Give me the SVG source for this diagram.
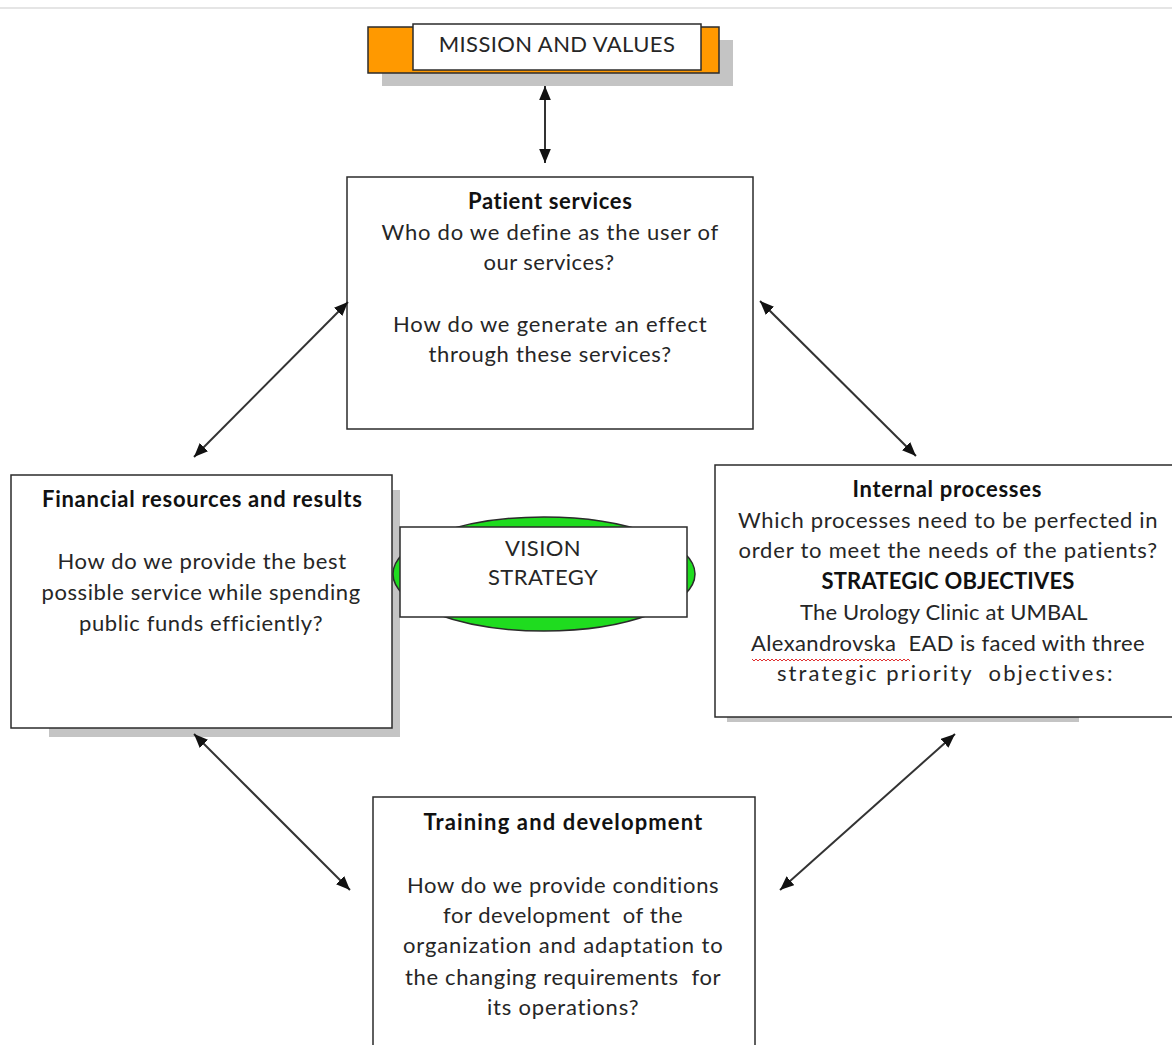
<svg xmlns="http://www.w3.org/2000/svg" width="1172" height="1045" viewBox="0 0 1172 1045">
  <style>
    .box { fill: #ffffff; stroke: #2b2b2b; stroke-width: 1.5; }
    .shadow { fill: #c4c4c4; }
    .t { font-family: Lato, "Open Sans", "Liberation Sans", sans-serif; font-size: 22px; letter-spacing: 0.4px; fill: #262626; text-anchor: middle; }
    .b { font-weight: bold; fill: #111111; letter-spacing: 0.2px; }
    .link { stroke: #333333; stroke-width: 2; fill: none; marker-start: url(#arrow); marker-end: url(#arrow); }
  </style>
  <defs>
    <marker id="arrow" viewBox="0 0 12 10" refX="12" refY="5" markerWidth="14" markerHeight="12" markerUnits="userSpaceOnUse" orient="auto-start-reverse">
      <path d="M0,0 L12,5 L0,10 z" fill="#111111"/>
    </marker>
  </defs>

  <rect width="1172" height="1045" fill="#ffffff"/>
  <line x1="0" y1="8" x2="1172" y2="8" stroke="#dcdcdc" stroke-width="1.5"/>

  <!-- Mission and values -->
  <g id="mission">
    <rect class="shadow" x="382" y="40" width="351" height="46"/>
    <rect x="368" y="27" width="351" height="46" fill="#ff9900" stroke="#2b2b2b" stroke-width="1.5"/>
    <rect class="box" x="413" y="24" width="288" height="46"/>
    <text class="t" x="557" y="52" font-size="19" letter-spacing="0">MISSION AND VALUES</text>
  </g>

  <!-- Patient services -->
  <g id="patient">
    <rect class="box" x="347" y="177" width="406" height="252"/>
    <text class="t b" x="550" y="209" textLength="164">Patient services</text>
    <text class="t" x="550" y="240" textLength="337">Who do we define as the user of</text>
    <text class="t" x="549" y="270" textLength="131">our services?</text>
    <text class="t" x="550" y="332" textLength="314">How do we generate an effect</text>
    <text class="t" x="550" y="362" textLength="243">through these services?</text>
  </g>

  <!-- Financial resources and results -->
  <g id="financial">
    <rect class="shadow" x="49" y="490" width="351" height="247"/>
    <rect class="box" x="11" y="475" width="381" height="253"/>
    <text class="t b" x="202" y="507" textLength="320">Financial resources and results</text>
    <text class="t" x="202" y="569" textLength="289">How do we provide the best</text>
    <text class="t" x="201" y="600" textLength="319">possible service while spending</text>
    <text class="t" x="201" y="631" textLength="244">public funds efficiently?</text>
  </g>

  <!-- Vision / strategy -->
  <g id="vision">
    <ellipse cx="544" cy="574" rx="151" ry="57" fill="#1fdc1f" stroke="#2b2b2b" stroke-width="1.5"/>
    <rect class="box" x="400" y="527" width="287" height="90"/>
    <text class="t" x="543" y="556" font-size="19" letter-spacing="0">VISION</text>
    <text class="t" x="543" y="585" font-size="19" letter-spacing="0">STRATEGY</text>
  </g>

  <!-- Internal processes -->
  <g id="internal">
    <rect class="shadow" x="727" y="716" width="352" height="6"/>
    <rect class="box" x="715" y="465" width="470" height="252" stroke-width="2"/>
    <text class="t b" x="947" y="497" textLength="189">Internal processes</text>
    <text class="t" x="948" y="528" textLength="420">Which processes need to be perfected in</text>
    <text class="t" x="948" y="558" textLength="419">order to meet the needs of the patients?</text>
    <text class="t b" x="948" y="589" letter-spacing="0.6">STRATEGIC OBJECTIVES</text>
    <text class="t" x="944" y="620" textLength="288">The Urology Clinic at UMBAL</text>
    <text class="t" x="948" y="651" textLength="394" xml:space="preserve">Alexandrovska  EAD is faced with three</text>
    <text class="t" x="945" y="681" textLength="336" xml:space="preserve">strategic priority  objectives:</text>
    <path d="M752,659 l2,2 l2,-2 l2,2 l2,-2 l2,2 l2,-2 l2,2 l2,-2 l2,2 l2,-2 l2,2 l2,-2 l2,2 l2,-2 l2,2 l2,-2 l2,2 l2,-2 l2,2 l2,-2 l2,2 l2,-2 l2,2 l2,-2 l2,2 l2,-2 l2,2 l2,-2 l2,2 l2,-2 l2,2 l2,-2 l2,2 l2,-2 l2,2 l2,-2 l2,2 l2,-2 l2,2 l2,-2 l2,2 l2,-2 l2,2 l2,-2 l2,2 l2,-2 l2,2 l2,-2 l2,2 l2,-2 l2,2 l2,-2 l2,2 l2,-2 l2,2 l2,-2 l2,2 l2,-2 l2,2 l2,-2 l2,2 l2,-2 l2,2 l2,-2 l2,2 l2,-2 l2,2 l2,-2 l2,2 l2,-2 l2,2 l2,-2 l2,2 l2,-2 l2,2 l2,-2 l2,2 l2,-2 l2,2" fill="none" stroke="#e03030" stroke-width="1"/>
  </g>

  <!-- Training and development -->
  <g id="training">
    <rect class="box" x="373" y="797" width="382" height="260"/>
    <text class="t b" x="563" y="830" textLength="279">Training and development</text>
    <text class="t" x="563" y="893" textLength="312">How do we provide conditions</text>
    <text class="t" x="563" y="923" textLength="240" xml:space="preserve">for development  of the</text>
    <text class="t" x="563" y="953" textLength="320">organization and adaptation to</text>
    <text class="t" x="563" y="985" textLength="316" xml:space="preserve">the changing requirements  for</text>
    <text class="t" x="563" y="1015" textLength="152">its operations?</text>
  </g>

  <!-- Two-way links between the perspectives -->
  <g id="connectors">
    <line class="link" x1="545" y1="86" x2="545" y2="163"/>
    <line class="link" x1="194" y1="457" x2="348" y2="302"/>
    <line class="link" x1="760" y1="301" x2="916" y2="456"/>
    <line class="link" x1="194" y1="734" x2="350" y2="890"/>
    <line class="link" x1="955" y1="734" x2="780" y2="890"/>
  </g>
</svg>
